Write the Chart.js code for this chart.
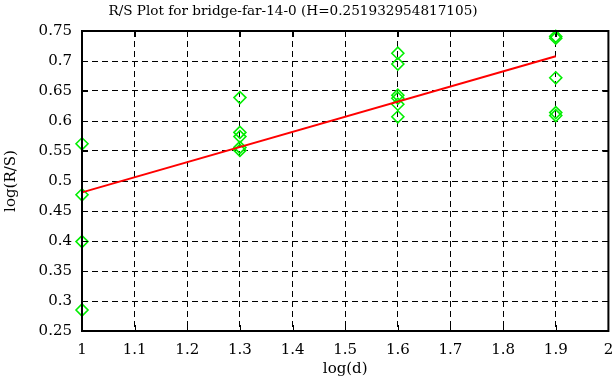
<!DOCTYPE html>
<html>

<head>
	<title>R/S Plot</title>
	<style>
		body {
			margin: 0;
			background: #fff;
		}
	</style>
</head>

<body>
	<div style="width:616px;height:387px;">
		<canvas id="rs"></canvas>
	</div>

	<script src="https://cdn.jsdelivr.net/npm/chart.js@4/dist/chart.umd.min.js"></script>
	<script>
		// values
		const dVals = [1, 1, 1, 1,
			1.3, 1.3, 1.3, 1.3, 1.3,
			1.6, 1.6, 1.6, 1.6, 1.6, 1.6,
			1.9, 1.9, 1.9, 1.9, 1.9];
		const rsVals = [0.562, 0.477, 0.399, 0.285,
			0.639, 0.581, 0.574, 0.556, 0.551,
			0.713, 0.695, 0.643, 0.638, 0.628, 0.607,
			0.741, 0.738, 0.672, 0.614, 0.609];
		const fitX = [1, 1.9];
		const fitY = [0.481, 0.708];
		const titleText = 'R/S Plot for bridge-far-14-0 (H=0.251932954817105)';

		const serif = '"DejaVu Serif", "Liberation Serif", serif';

		// gnuplot style frame with inward ticks, plus the title
		const frame = {
			id: 'frame',
			afterDatasetsDraw(chart) {
				const c = chart.ctx;
				const a = chart.chartArea;
				const xs = chart.scales.x, ys = chart.scales.y;
				c.save();
				c.strokeStyle = '#000';
				c.lineWidth = 1;
				c.beginPath();
				xs.ticks.forEach(t => {
					const px = Math.round(xs.getPixelForValue(t.value)) + 0.5;
					c.moveTo(px, a.bottom); c.lineTo(px, a.bottom - 6);
					c.moveTo(px, a.top); c.lineTo(px, a.top + 6);
				});
				ys.ticks.forEach(t => {
					const py = Math.round(ys.getPixelForValue(t.value)) + 0.5;
					c.moveTo(a.left, py); c.lineTo(a.left + 6, py);
					c.moveTo(a.right, py); c.lineTo(a.right - 6, py);
				});
				c.stroke();
				c.lineWidth = 2;
				c.strokeRect(a.left, a.top, a.right - a.left, a.bottom - a.top);

				c.fillStyle = '#000';
				c.font = '13.6px ' + serif;
				c.textAlign = 'center';
				c.textBaseline = 'middle';
				c.fillText(titleText, 293, 11);
				c.restore();
			}
		};

		const fmt = v => String(Number(v.toFixed(2)));

		let ctx = document.getElementById('rs').getContext('2d');
		let chart = new Chart(ctx, {
			type: 'scatter',
			data: {
				datasets: [
					{
						type: 'line',
						data: fitX.map((x, i) => ({ x: x, y: fitY[i] })),
						borderColor: '#ff0000',
						borderWidth: 2,
						pointRadius: 0,
						fill: false,
						clip: false,
						order: 0
					},
					{
						data: dVals.map((x, i) => ({ x: x, y: rsVals[i] })),
						pointStyle: 'rectRot',
						pointRadius: 6,
						pointHoverRadius: 6,
						borderColor: '#00ee00',
						backgroundColor: 'transparent',
						borderWidth: 1.6,
						clip: false,
						order: 1
					}
				]
			},
			options: {
				responsive: true,
				maintainAspectRatio: false,
				animation: false,
				events: [],
				layout: { padding: { left: 0, right: 7, top: 31, bottom: 0 } },
				plugins: {
					legend: { display: false },
					tooltip: { enabled: false },
					title: { display: false }
				},
				scales: {
					x: {
						type: 'linear',
						min: 1,
						max: 2,
						ticks: {
							stepSize: 0.1,
							color: '#000',
							font: { family: serif, size: 15 },
							padding: 10,
							callback: fmt
						},
						grid: {
							color: '#000',
							lineWidth: 1,
							drawTicks: false
						},
						border: { display: false, dash: [6, 4] },
						title: {
							display: true,
							text: 'log(d)',
							color: '#000',
							font: { family: serif, size: 15 },
							padding: { top: 0, bottom: 9 }
						},
						afterFit(s) {
							s.height = 56;
							s.paddingLeft = 0;
							s.paddingRight = 0;
						}
					},
					y: {
						type: 'linear',
						min: 0.25,
						max: 0.75,
						ticks: {
							stepSize: 0.05,
							color: '#000',
							font: { family: serif, size: 15 },
							padding: 10,
							callback: fmt
						},
						grid: {
							color: '#000',
							lineWidth: 1,
							drawTicks: false
						},
						border: { display: false, dash: [6, 4] },
						title: {
							display: true,
							text: 'log(R/S)',
							color: '#000',
							font: { family: serif, size: 15 },
							padding: { top: 2, bottom: 0 }
						},
						afterFit(s) {
							s.width = 82;
							s.paddingTop = 0;
							s.paddingBottom = 0;
						}
					}
				}
			},
			plugins: [frame]
		});
	</script>
</body>

</html>
